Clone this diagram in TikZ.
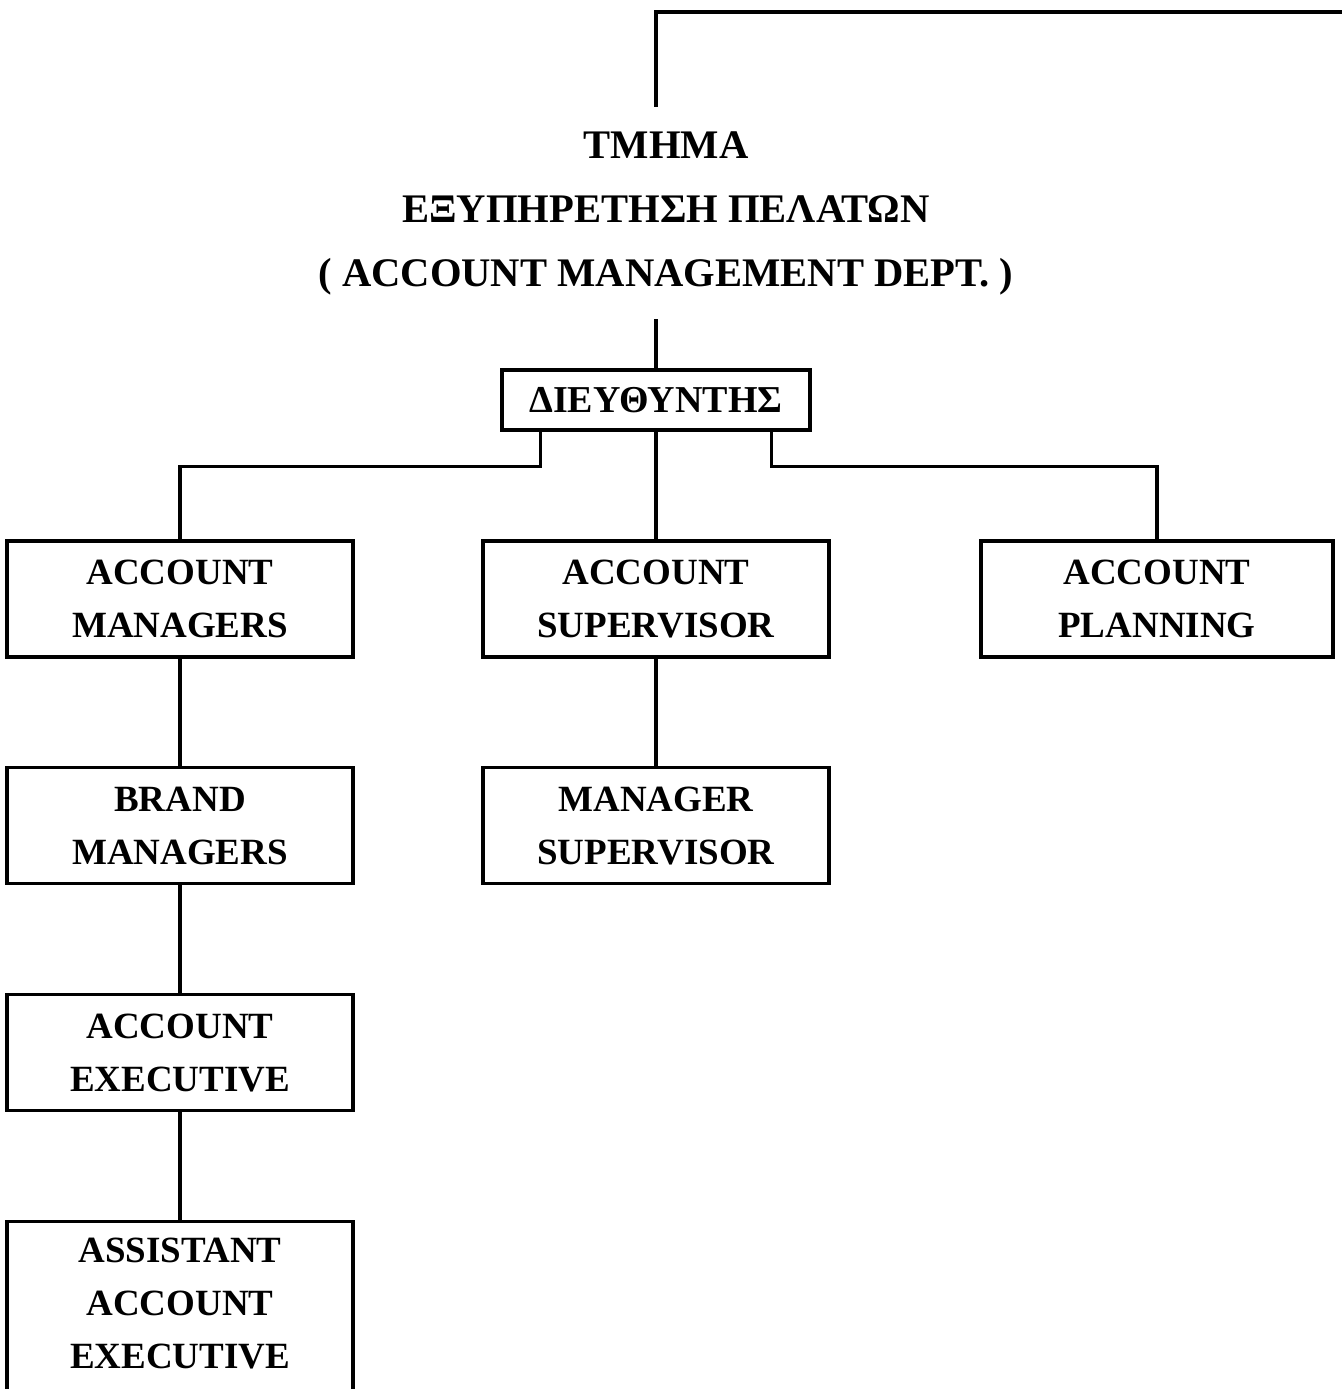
\documentclass[tikz,border=0pt]{standalone}
\usepackage{fontspec}
\setmainfont{Liberation Serif}
\usetikzlibrary{positioning}

\begin{document}
\begin{tikzpicture}[
  x=0.5pt, y=-0.5pt,
  node distance=53.8pt and 65pt,
  unit/.style={rectangle, draw=black, line width=1.6pt, minimum width=173pt, minimum height=58pt, inner sep=2pt, align=center, font=\fontsize{18.5}{26.5}\selectfont\bfseries},
  head/.style={rectangle, draw=black, line width=1.6pt, minimum width=154pt, minimum height=30pt, inner sep=2pt, font=\fontsize{19}{24}\selectfont\bfseries},
  link/.style={line width=1.6pt, draw=black},
]
\clip (0,0) rectangle (1342,1389);
\useasboundingbox (0,0) rectangle (1342,1389);

\node[align=center, inner ysep=12pt, font=\fontsize{20.3}{32}\selectfont\bfseries] (title) at (666,213)
  {ΤΜΗΜΑ\\ΕΞΥΠΗΡΕΤΗΣΗ ΠΕΛΑΤΩΝ\\( ACCOUNT MANAGEMENT DEPT. )};
\node[head] (dir) at (656,400) {ΔΙΕΥΘΥΝΤΗΣ};

\node[unit] (am) at (180,599) {ACCOUNT\\MANAGERS};
\node[unit] (as) at (656,599) {ACCOUNT\\SUPERVISOR};
\node[unit, minimum width=176pt] (ap) at (1157,599) {ACCOUNT\\PLANNING};

\node[unit, below=of am] (bm) {BRAND\\MANAGERS};
\node[unit, below=of as] (ms) {MANAGER\\SUPERVISOR};
\node[unit, below=of bm] (ae) {ACCOUNT\\EXECUTIVE};
\node[unit, below=of ae, minimum height=116pt] (aae) {ASSISTANT\\ACCOUNT\\EXECUTIVE\\\strut};

\coordinate (tr) at (1350,12);
\draw[link] (tr) -| (title.north -| dir.north);
\draw[link] (title.south -| dir.north) -- (dir.north);

\draw[link] ([xshift=20pt]dir.south west) -- ++(0,35) -| (am.north);
\draw[link] (dir.south) -- (as.north);
\draw[link] ([xshift=-20pt]dir.south east) -- ++(0,35) -| (ap.north);

\draw[link] (am) -- (bm);
\draw[link] (bm) -- (ae);
\draw[link] (ae) -- (aae);
\draw[link] (as) -- (ms);
\end{tikzpicture}
\end{document}
